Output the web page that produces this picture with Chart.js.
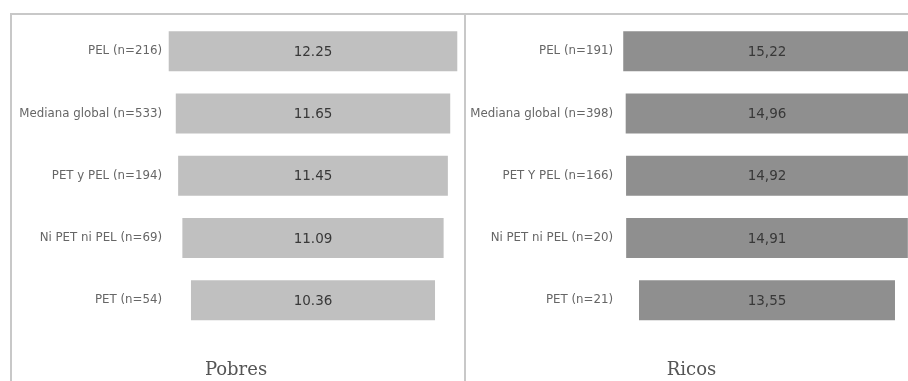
<!DOCTYPE html>
<html>
<head>
<meta charset="utf-8">
<script src="https://cdn.jsdelivr.net/npm/chart.js@4/dist/chart.umd.min.js"></script>
<style>
  html, body { margin: 0; padding: 0; background: #fff; overflow: hidden; }
  body { width: 908px; height: 381px; position: relative; }
  .frame { position: absolute; top: 13px; border-top: 2px solid #c8c8c8; }
  #frameLeft { left: 10px; width: 452px; height: 368px; border-left: 2px solid #c8c8c8; border-right: 2px solid #c8c8c8; }
  #frameRight { left: 464px; width: 460px; height: 368px; }
  .panel { position: absolute; top: 9px; height: 372px; width: 451px; }
  #pobresWrap { left: 12px; }
  #ricosWrap { left: 466px; }
</style>
</head>
<body>
<div class="frame" id="frameLeft"></div>
<div class="frame" id="frameRight"></div>
<div class="panel" id="pobresWrap"><canvas id="pobresChart"></canvas></div>
<div class="panel" id="ricosWrap"><canvas id="ricosChart"></canvas></div>
<script>
// Pobres
const pobresLabels = ['PEL (n=216)', 'Mediana global (n=533)', 'PET y PEL (n=194)', 'Ni PET ni PEL (n=69)', 'PET (n=54)'];
const pobresValues = [12.25, 11.65, 11.45, 11.09, 10.36];
const pobresText = ['12.25', '11.65', '11.45', '11.09', '10.36'];

// Ricos
const ricosLabels = ['PEL (n=191)', 'Mediana global (n=398)', 'PET Y PEL (n=166)', 'Ni PET ni PEL (n=20)', 'PET (n=21)'];
const ricosValues = [15.22, 14.96, 14.92, 14.91, 13.55];
const ricosText = ['15,22', '14,96', '14,92', '14,91', '13,55'];

// writes the value in the middle of each bar
const barTextPlugin = {
  id: 'barText',
  afterDatasetsDraw(chart, args, opts) {
    const ctx = chart.ctx;
    const meta = chart.getDatasetMeta(0);
    ctx.save();
    ctx.font = '13.5px "DejaVu Sans", sans-serif';
    ctx.fillStyle = '#383838';
    ctx.textAlign = 'center';
    ctx.textBaseline = 'middle';
    meta.data.forEach((bar, i) => {
      const props = bar.getProps(['x', 'base', 'y'], true);
      ctx.fillText(opts.texts[i], (props.x + props.base) / 2, props.y + 1);
    });
    ctx.restore();
  }
};

function createFunnelChart(canvasId, labels, values, texts, color, halfRange, axisWidth, title) {
  const ctx = document.getElementById(canvasId).getContext('2d');
  new Chart(ctx, {
    type: 'bar',
    data: {
      labels: labels,
      datasets: [
        {
          data: values.map((v) => [-v / 2, v / 2]),
          backgroundColor: color,
          borderWidth: 0,
          categoryPercentage: 0.643,
          barPercentage: 1,
        },
      ],
    },
    options: {
      responsive: true,
      maintainAspectRatio: false,
      animation: false,
      indexAxis: 'y',
      layout: { padding: { top: 0, right: 451 - axisWidth - halfRange.px, bottom: 0, left: 0 } },
      scales: {
        x: {
          display: false,
          min: -halfRange.v,
          max: halfRange.v,
        },
        y: {
          grid: { display: false, drawTicks: false },
          border: { display: false },
          ticks: {
            color: '#666666',
            padding: 4,
            font: { family: '"DejaVu Sans", sans-serif', size: 11.8 },
          },
          afterFit(scale) {
            scale.width = axisWidth;
          },
        },
      },
      plugins: {
        legend: { display: false },
        tooltip: { enabled: false },
        title: {
          display: true,
          text: title,
          position: 'bottom',
          color: '#555555',
          font: { family: '"DejaVu Serif", "Liberation Serif", serif', size: 18, weight: 'normal' },
          padding: { top: 28, bottom: 0 },
        },
        barText: { texts: texts },
      },
    },
    plugins: [barTextPlugin],
  });
}

createFunnelChart('pobresChart', pobresLabels, pobresValues, pobresText, '#c0c0c0',
  { v: 6.24, px: 294 }, 154, 'Pobres');
createFunnelChart('ricosChart', ricosLabels, ricosValues, ricosText, '#8f8f8f',
  { v: 7.94, px: 300 }, 151, 'Ricos');
</script>
</body>
</html>
